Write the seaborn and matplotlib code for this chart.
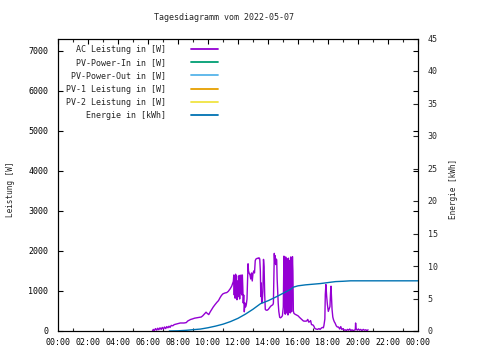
import matplotlib
matplotlib.use("Agg")
import matplotlib.pyplot as plt
import numpy as np
import pandas as pd
import seaborn as sns

ac_zeit = [6.30, 6.35, 6.42, 6.50, 6.58, 6.65, 6.72, 6.80, 6.88, 6.95, 7.03, 7.10, 7.18, 7.25,
           7.33, 7.40, 7.47, 7.55, 7.65, 7.75, 7.85, 7.95, 8.05, 8.15, 8.25, 8.40, 8.55, 8.65,
           8.75, 8.85, 8.95, 9.10, 9.25, 9.40, 9.55, 9.65, 9.75, 9.87, 9.95, 10.05, 10.15, 10.25,
           10.35, 10.47, 10.60, 10.70, 10.80, 10.90, 11.00, 11.13, 11.25, 11.35, 11.47, 11.58, 11.69,
           11.72, 11.75, 11.78, 11.81, 11.84, 11.87, 11.90, 11.93, 11.96, 11.99, 12.02, 12.05, 12.08,
           12.11, 12.14, 12.17, 12.20, 12.23, 12.26, 12.29, 12.32, 12.35, 12.38, 12.42, 12.46, 12.50,
           12.55, 12.60, 12.64, 12.67, 12.70, 12.75, 12.80, 12.85, 12.90, 12.95, 13.00, 13.05, 13.10,
           13.15, 13.20, 13.25, 13.30, 13.35, 13.40, 13.45, 13.49, 13.52, 13.55, 13.58, 13.62, 13.66,
           13.70, 13.74, 13.78, 13.82, 13.88, 13.95, 14.02, 14.10, 14.18, 14.26, 14.33, 14.36, 14.40,
           14.42, 14.45, 14.48, 14.51, 14.54, 14.58, 14.61, 14.64, 14.68, 14.72, 14.78, 14.84, 14.90,
           14.96, 15.02, 15.06, 15.09, 15.12, 15.15, 15.18, 15.21, 15.24, 15.27, 15.30, 15.33, 15.36,
           15.39, 15.42, 15.45, 15.48, 15.51, 15.54, 15.57, 15.60, 15.63, 15.66, 15.69, 15.73, 15.80,
           15.90, 16.00, 16.13, 16.25, 16.36, 16.47, 16.58, 16.65, 16.72, 16.80, 16.84, 16.90, 17.00,
           17.06, 17.13, 17.20, 17.30, 17.40, 17.47, 17.55, 17.62, 17.69, 17.73, 17.79, 17.82, 17.86,
           17.91, 17.96, 18.02, 18.08, 18.13, 18.17, 18.20, 18.24, 18.27, 18.32, 18.36, 18.42, 18.47,
           18.55, 18.62, 18.70, 18.78, 18.85, 18.92, 19.00, 19.07, 19.15, 19.22, 19.30, 19.37, 19.45,
           19.52, 19.60, 19.67, 19.75, 19.82, 19.84, 19.87, 19.95, 20.03, 20.10, 20.18, 20.26, 20.35,
           20.43, 20.52, 20.60, 20.67]
ac_leistung = [0, 40, 10, 60, 20, 70, 30, 80, 40, 90, 50, 100, 60, 110,
               80, 120, 90, 140, 130, 160, 170, 180, 190, 200, 200, 200, 210, 250,
               270, 290, 300, 320, 330, 340, 350, 380, 420, 470, 440, 410, 480, 540,
               600, 660, 720, 760, 830, 890, 930, 950, 960, 990, 1050, 1120, 1240,
               1400, 900, 1350, 820, 1420, 1100, 1380, 780, 1250, 850, 1200, 1000, 1390,
               800, 1100, 950, 1400, 1150, 900, 1400, 1100, 700, 900, 480, 700, 600,
               650, 800, 1300, 1680, 1500, 1440, 1400, 1300, 1450, 1250, 1440, 1500, 1450,
               1760, 1800, 1810, 1820, 1810, 1830, 1800, 1500, 860, 1200, 700, 740, 1000,
               1790, 1600, 900, 540, 520, 520, 540, 580, 620, 640, 660, 700, 1500,
               1940, 1700, 1880, 1660, 1800, 1780, 1300, 1040, 700, 490, 340, 330, 350,
               380, 600, 1870, 1850, 500, 420, 1850, 1600, 450, 1800, 1700, 400, 1820,
               1200, 1760, 600, 450, 1850, 1650, 480, 1300, 1860, 1500, 500, 440, 420,
               400, 380, 330, 290, 250, 245, 250, 290, 220, 240, 260, 160, 150,
               120, 60, 50, 40, 60, 40, 70, 90, 80, 140, 300, 910, 1160,
               870, 660, 490, 560, 610, 950, 1120, 800, 540, 350, 290, 230, 200,
               130, 100, 100, 50, 110, 40, 60, 20, 30, 10, 40, 20, 50,
               10, 30, 10, 20, 30, 200, 60, 20, 50, 20, 40, 10, 40,
               20, 30, 10, 30]

energie_zeit = [7.42, 8.0, 8.5, 9.0, 9.5, 10.0, 10.5, 11.0, 11.5, 12.0, 12.5, 13.0, 13.5,
                14.0, 14.5, 15.0, 15.5, 15.7, 16.0, 16.5, 17.0, 17.5, 18.0, 18.5, 19.0,
                19.5, 24.0]
energie = [0.0, 0.03, 0.1, 0.2, 0.3, 0.5, 0.75, 1.05, 1.45, 1.95, 2.6, 3.35, 4.2,
           4.65, 5.2, 5.8, 6.4, 6.75, 6.95, 7.1, 7.2, 7.3, 7.45, 7.6, 7.65,
           7.72, 7.72]

# PV-Werte sind an diesem Tag leer
leer = []

x_ticks = list(range(0, 25, 2))
x_labels = [f"{h % 24:02d}:00" for h in x_ticks]

df_ac = pd.DataFrame({"Zeit": ac_zeit, "Leistung": ac_leistung})
df_en = pd.DataFrame({"Zeit": energie_zeit, "Energie": energie})

sns.set_style("white")
plt.rcParams["font.family"] = ["DejaVu Sans Mono"]
plt.rcParams["font.size"] = 6

fig = plt.figure(figsize=(4.8, 3.6), dpi=100)
ax = fig.add_axes([58 / 480, 1 - 331 / 360, 360 / 480, 292.5 / 360])
ax2 = ax.twinx()

lw = 1.0
sns.lineplot(data=df_ac, x="Zeit", y="Leistung", ax=ax, color="#9400d3", lw=lw,
             label="AC Leistung in [W]", legend=False)
ax.plot(leer, leer, color="#009e73", lw=lw, label="PV-Power-In in [W]")
ax.plot(leer, leer, color="#56b4e9", lw=lw, label="PV-Power-Out in [W]")
ax.plot(leer, leer, color="#e69f00", lw=lw, label="PV-1 Leistung in [W]")
ax.plot(leer, leer, color="#f0e442", lw=lw, label="PV-2 Leistung in [W]")
sns.lineplot(data=df_en, x="Zeit", y="Energie", ax=ax2, color="#0072b2", lw=lw,
             label="Energie in [kWh]", legend=False)

ax.set_xlim(0, 24)
ax.set_ylim(0, 7310)
ax2.set_ylim(0, 45)
ax.set_xticks(x_ticks)
ax.set_xticklabels(x_labels)
ax.set_xticks(range(0, 25), minor=True)
ax.set_yticks(range(0, 7001, 1000))
ax.set_yticks([], minor=True)
ax2.set_yticks(range(0, 46, 5))
ax.set_xlabel("")
ax.set_ylabel("")
ax2.set_ylabel("")

ax.tick_params(which="major", direction="in", length=3.5, width=0.8, top=True, right=True,
               pad=7, labelsize=6, colors="black")
ax.tick_params(which="minor", direction="in", length=2, width=0.8, top=True, bottom=True)
ax.tick_params(axis="x", pad=5)
ax2.tick_params(direction="in", length=3.5, width=0.8, pad=7, labelsize=6)
for a in (ax, ax2):
    for s in a.spines.values():
        s.set_color("black")
        s.set_linewidth(0.8)

h1, l1 = ax.get_legend_handles_labels()
h2, l2 = ax2.get_legend_handles_labels()
leg = ax2.legend(h1 + h2, l1 + l2, loc="upper right", bbox_to_anchor=(218 / 480, 1 - 45 / 360),
                 bbox_transform=fig.transFigure, frameon=False, markerfirst=False,
                 borderpad=0, borderaxespad=0, handlelength=3.3, handletextpad=2.9,
                 labelspacing=0.5, fontsize=6)
for line in leg.get_lines():
    line.set_linewidth(1.3)

fig.text(224 / 480, 1 - 18 / 360, "Tagesdiagramm vom 2022-05-07", ha="center", va="center", fontsize=6)
fig.text(11 / 480, 1 - 189 / 360, "Leistung [W]", rotation=90, ha="center", va="center", fontsize=5.5)
fig.text(453 / 480, 1 - 189 / 360, "Energie [kWh]", rotation=90, ha="center", va="center", fontsize=5.5)

fig.savefig("out.png", dpi=100)
